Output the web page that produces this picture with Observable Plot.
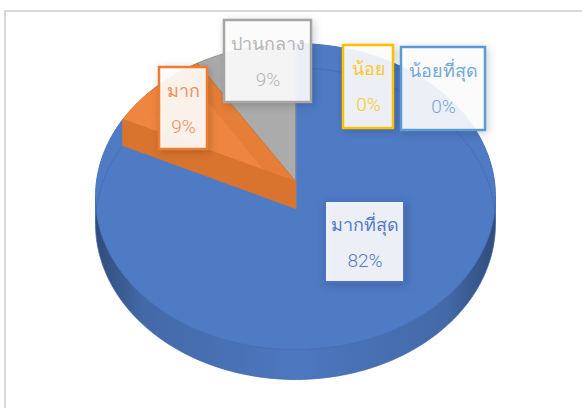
<!DOCTYPE html>
<html><head><meta charset="utf-8">
<script src="https://cdn.jsdelivr.net/npm/d3@7"></script>
<script src="https://cdn.jsdelivr.net/npm/@observablehq/plot@0.6"></script>
<style>
html,body{margin:0;padding:0;background:#fff;overflow:hidden;}
#wrap{position:relative;width:582px;height:408px;overflow:hidden;}
#frame{position:absolute;left:4px;top:10px;width:640px;height:460px;border:2px solid #d9d9d9;box-sizing:border-box;}
#chart{position:absolute;left:0;top:0;}
g[aria-label="rect"] rect{filter:drop-shadow(2px 2px 4px rgba(0,0,0,0.2));}
</style></head><body>
<div id="wrap"><div id="frame"></div><div id="chart"></div></div>
<script>
// ---- data ----
const categories = ["มากที่สุด", "มาก", "ปานกลาง", "น้อย", "น้อยที่สุด"];
const values = [82, 9, 9, 0, 0];
const valueLabels = ["82%", "9%", "9%", "0%", "0%"];

// ---- styles ----
const colors = ["#4f7bc5", "#ED7D31", "#A5A5A5", "#FFC000", "#5B9BD5"];
const textColors = ["#5479c8", "#f0905a", "#b5b5b5", "#ffc72e", "#72a8dc"];
const borderColors = ["#4a74c2", "#ED7D31", "#A5A5A5", "#FFC000", "#5B9BD5"];
const faceColors = ["#3f66ad", "#d9742f", "#8f8f8f", "#e0a800", "#4a86bf"];

// ---- layout ----
const W = 582, H = 408;
const cx = 295, cy = 181, A = 199, B = 151.5, persp = 0.0983, depth = 27;
const labelBoxes = [
  {x1: 325, x2: 404, y1: 201, y2: 282},
  {x1: 159, x2: 207, y1: 67, y2: 149},
  {x1: 224, x2: 311, y1: 20, y2: 102},
  {x1: 343, x2: 393, y1: 45, y2: 128},
  {x1: 401, x2: 485, y1: 47, y2: 130}
];

function proj(theta, r, drop) {
  const X = r * Math.sin(theta), Z = r * Math.cos(theta);
  const den = 1 + persp * Z;
  return {x: cx + A * X / den, y: cy - B * Z / den + drop / den};
}
function arc(a0, a1, drop) {
  const n = Math.max(2, Math.ceil(Math.abs(a1 - a0) / 0.01));
  const pts = [];
  for (let k = 0; k <= n; k++) pts.push(proj(a0 + (a1 - a0) * k / n, 1, drop));
  return pts;
}
const total = d3.sum(values);
let acc = 0;
const slices = values.map((v, i) => {
  const a0 = acc / total * 2 * Math.PI; acc += v;
  const a1 = acc / total * 2 * Math.PI;
  return {i, a0, a1};
});
const topPoly = s => [proj(0, 0, 0), ...arc(s.a0, s.a1, 0)];
const facePoly = a => [proj(a, 0, 0), proj(a, 1, 0), proj(a, 1, depth), proj(a, 0, depth)];
const thR = Math.acos(-persp), thL = 2 * Math.PI - thR;
function sidePoly(s) {
  const t0 = Math.max(s.a0, thR), t1 = Math.min(s.a1, thL);
  if (t1 <= t0) return null;
  return [...arc(t0, t1, 0), ...arc(t1, t0, depth)];
}

const marks = [];
const poly = (pts, opts) => Plot.line(pts, {x: "x", y: "y", curve: "linear-closed", ...opts});

// sides
slices.forEach(s => {
  const p = sidePoly(s);
  if (p) marks.push(poly(p, {fill: `url(#side${s.i})`, stroke: faceColors[s.i], strokeWidth: 0.8}));
});
// blue top
marks.push(poly(topPoly(slices[0]), {fill: colors[0], stroke: "#4570bd", strokeWidth: 1}));
// faint back bottom rim seen through
marks.push(Plot.line(arc(thL, 2 * Math.PI + thR, depth), {x: "x", y: "y", stroke: "#3a5fa3", strokeOpacity: 0.45, strokeWidth: 1}));
// gray, then orange
[2, 1].forEach(i => {
  const s = slices[i];
  marks.push(poly(facePoly(s.a0), {fill: faceColors[i], stroke: faceColors[i], strokeWidth: 0.8}));
  marks.push(poly(topPoly(s), {fill: colors[i], fillOpacity: 0.93, stroke: faceColors[i], strokeWidth: 1}));
});

// labels
const lbl = categories.map((c, i) => ({c, v: valueLabels[i], i, ...labelBoxes[i]}));
marks.push(Plot.rect(lbl, {x1: "x1", x2: "x2", y1: "y1", y2: "y2", fill: "white", fillOpacity: 0.9,
  stroke: d => borderColors[d.i], strokeWidth: d => d.i === 0 ? 2 : 2.5}));
marks.push(Plot.text(lbl, {x: d => (d.x1 + d.x2) / 2, y: d => d.y1 + 24, text: "c",
  fill: d => textColors[d.i], fontSize: 18, fontWeight: 300, fontFamily: "'Leelawadee UI', Tahoma, 'Noto Sans', sans-serif"}));
marks.push(Plot.text(lbl, {x: d => (d.x1 + d.x2) / 2, y: d => d.y1 + 59, text: "v",
  fill: d => textColors[d.i], fontSize: 19, fontFamily: "Roboto, 'Liberation Sans', sans-serif", fontWeight: 300}));

const chart = Plot.plot({
  width: W, height: H, margin: 0,
  x: {domain: [0, W], range: [0, W], axis: null},
  y: {domain: [0, H], range: [0, H], axis: null},
  color: {type: "identity"},
  style: {background: "transparent", overflow: "visible"},
  marks
});

// gradients for sides
const defs = d3.select(chart).insert("defs", ":first-child");
slices.forEach(s => {
  const base = d3.color(colors[s.i]);
  const g = defs.append("linearGradient").attr("id", `side${s.i}`).attr("x1", 0).attr("x2", 1).attr("y1", 0).attr("y2", 0);
  [[0, 0.62], [0.12, 0.85], [0.5, 0.97], [0.88, 0.85], [1, 0.62]].forEach(([o, k]) => {
    const c = d3.rgb(base.r * k, base.g * k, base.b * k);
    g.append("stop").attr("offset", o).attr("stop-color", c.formatHex());
  });
});
document.getElementById("chart").appendChild(chart);
</script>
</body></html>
